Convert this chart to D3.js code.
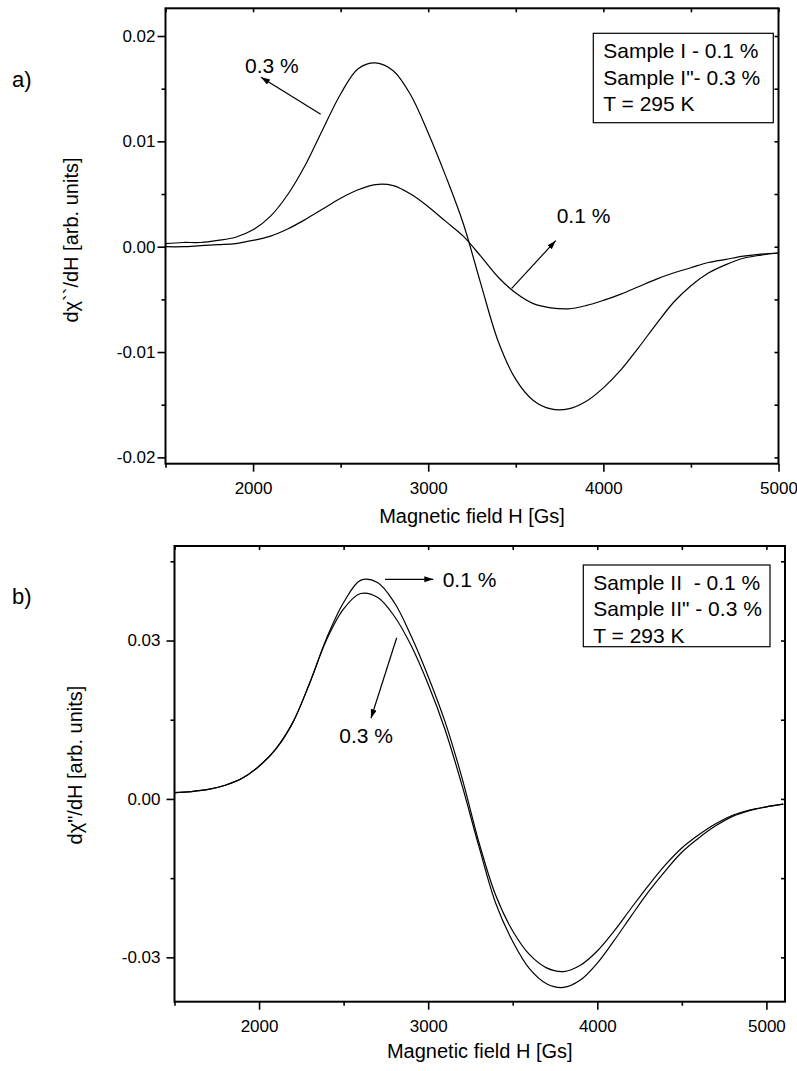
<!DOCTYPE html>
<html>
<head>
<meta charset="utf-8">
<title></title>
<script src="https://d3js.org/d3.v7.min.js"></script>
<style>
	body {
		margin: 0;
		background: #ffffff;
	}
	svg text {
		font-family: Arial, "Liberation Sans", sans-serif;
		fill: #000000;
	}
</style>
</head>
<body>
<div id="chart"></div>
<script>
//Magnetic field values (Gs) for panel a)
var fieldA = [1500, 1600, 1700, 1800, 1900, 2000, 2100, 2200, 2300, 2400, 2500, 2600, 2700, 2800, 2900,
	3000, 3100, 3200, 3300, 3400, 3500, 3600, 3700, 3800, 3900, 4000, 4100, 4200, 4300, 4400, 4500,
	4600, 4700, 4800, 4900, 5000];
//Sample I - 0.1 %
var sampleI_01 = [0.0000, 0.0000, 0.0001, 0.0002, 0.0003, 0.0006, 0.0010, 0.0017, 0.0026, 0.0036, 0.0046,
	0.0054, 0.0059, 0.0058, 0.0050, 0.0038, 0.0024, 0.0010, -0.0009, -0.0029, -0.0044, -0.0054, -0.0058,
	-0.0059, -0.0056, -0.0051, -0.0045, -0.0038, -0.0031, -0.0025, -0.0020, -0.0015, -0.0012, -0.0009,
	-0.0007, -0.0006];
//Sample I" - 0.3 %
var sampleI_03 = [0.0003, 0.0004, 0.0004, 0.0006, 0.0009, 0.0016, 0.0029, 0.0050, 0.0078, 0.0112, 0.0145,
	0.0169, 0.01745, 0.0167, 0.0144, 0.0108, 0.0067, 0.0022, -0.0035, -0.0090, -0.0126, -0.0146, -0.0154,
	-0.0154, -0.0147, -0.0134, -0.0117, -0.0096, -0.0074, -0.0053, -0.0037, -0.0025, -0.0017, -0.0011,
	-0.0008, -0.0006];

//Magnetic field values (Gs) for panel b)
var fieldB = [1500, 1600, 1700, 1800, 1900, 2000, 2100, 2200, 2300, 2400, 2500, 2600, 2700, 2800, 2900,
	3000, 3100, 3200, 3300, 3400, 3500, 3600, 3700, 3800, 3900, 4000, 4100, 4200, 4300, 4400, 4500,
	4600, 4700, 4800, 4900, 5000, 5100];
//Sample II - 0.1 %
var sampleII_01 = [0.0012, 0.0014, 0.0018, 0.0026, 0.0039, 0.0062, 0.0095, 0.0145, 0.0220, 0.0305, 0.0372,
	0.0414, 0.0410, 0.0372, 0.0308, 0.0232, 0.0146, 0.0040, -0.0082, -0.0183, -0.0250, -0.0295, -0.0320,
	-0.0327, -0.0315, -0.0288, -0.0250, -0.0207, -0.0165, -0.0126, -0.0093, -0.0068, -0.0047, -0.0031,
	-0.0021, -0.0015, -0.0010];
//Sample II" - 0.3 %
var sampleII_03 = [0.0012, 0.0014, 0.0018, 0.0026, 0.0039, 0.0062, 0.0095, 0.0145, 0.0220, 0.0302, 0.0360,
	0.0389, 0.0382, 0.0346, 0.0290, 0.0217, 0.0131, 0.0026, -0.0090, -0.0198, -0.0270, -0.0322, -0.0350,
	-0.0357, -0.0343, -0.0311, -0.0268, -0.0222, -0.0177, -0.0137, -0.0101, -0.0074, -0.0051, -0.0033,
	-0.0022, -0.0015, -0.0010];

//Tick values and labels
var xMajor = [2000, 3000, 4000, 5000];
var xMinor = [1500, 2500, 3500, 4500];
var yMajorA = [0.02, 0.01, 0, -0.01, -0.02];
var yLabelsA = ["0.02", "0.01", "0.00", "-0.01", "-0.02"];
var yMinorA = [0.015, 0.005, -0.005, -0.015];
var yMajorB = [0.03, 0, -0.03];
var yLabelsB = ["0.03", "0.00", "-0.03"];
var yMinorB = [0.045, 0.015, -0.015];

//Legend texts
var legendA = ["Sample I - 0.1 %", "Sample I\"- 0.3 %", "T = 295 K"];
var legendB = ["Sample II  - 0.1 %", "Sample II\" - 0.3 %", "T = 293 K"];

var width = 797;
var height = 1071;

var canvas = d3.select("#chart").append("svg")
	.attr("width", width)
	.attr("height", height);

//Arrow head used by the annotations
canvas.append("defs").append("marker")
	.attr("id", "arrow")
	.attr("markerUnits", "userSpaceOnUse")
	.attr("markerWidth", 10)
	.attr("markerHeight", 8)
	.attr("refX", 9)
	.attr("refY", 3)
	.attr("orient", "auto")
	.append("path")
	.attr("d", "M0,0 L9,3 L0,6 Z")
	.attr("fill", "#000");

//Draws one panel: frame, ticks, curves, legend box
function drawPanel(p) {
	var g = canvas.append("g");
	var x = p.x, y = p.y;
	var x0 = x.range()[0], x1 = x.range()[1];
	var y0 = y.range()[0], y1 = y.range()[1];

	//bottom axis, major + minor
	g.append("g").attr("transform", "translate(0," + y0 + ")")
		.call(d3.axisBottom(x).tickValues(xMajor).tickSize(8).tickPadding(10).tickFormat(d3.format("d")));
	g.append("g").attr("transform", "translate(0," + y0 + ")")
		.call(d3.axisBottom(x).tickValues(xMinor).tickSize(4).tickFormat(""));

	//left axis, major + minor
	g.append("g").attr("transform", "translate(" + x0 + ",0)")
		.call(d3.axisLeft(y).tickValues(p.yMajor).tickSize(8).tickPadding(p.yPad)
			.tickFormat(function(d, i) { return p.yLabels[i]; }));
	g.append("g").attr("transform", "translate(" + x0 + ",0)")
		.call(d3.axisLeft(y).tickValues(p.yMinor).tickSize(4).tickFormat(""));

	//mirrored ticks on top and right, pointing inward
	g.append("g").attr("transform", "translate(0," + y1 + ")")
		.call(d3.axisTop(x).tickValues(xMajor.concat(xMinor)).tickSize(-4).tickFormat(""));
	g.append("g").attr("transform", "translate(" + x1 + ",0)")
		.call(d3.axisRight(y).tickValues(p.yMajor.concat(p.yMinor)).tickSize(-4).tickFormat(""));

	g.selectAll(".domain").remove();
	g.selectAll(".tick line").attr("stroke", "#000").attr("stroke-width", 1.6);
	g.selectAll(".tick text").attr("font-size", 17).attr("font-family", "Arial, 'Liberation Sans', sans-serif");

	//frame
	g.append("rect")
		.attr("x", x0).attr("y", y1)
		.attr("width", x1 - x0).attr("height", y0 - y1)
		.attr("fill", "none").attr("stroke", "#000").attr("stroke-width", 2);

	//curves
	var line = d3.line()
		.x(function(d) { return x(d[0]); })
		.y(function(d) { return y(d[1]); })
		.curve(d3.curveCatmullRom.alpha(0.5));
	p.series.forEach(function(s) {
		g.append("path")
			.datum(p.field.map(function(f, i) { return [f, s[i]]; }))
			.attr("d", line)
			.attr("fill", "none")
			.attr("stroke", "#000")
			.attr("stroke-width", 1.2);
	});

	//axis titles
	g.append("text")
		.text("Magnetic field H [Gs]")
		.attr("x", (x0 + x1) / 2).attr("y", p.xTitleY)
		.attr("text-anchor", "middle").attr("font-size", 20);
	g.append("text")
		.text(p.yTitle)
		.attr("transform", "translate(" + p.yTitleX + "," + p.yTitleY + ") rotate(-90)")
		.attr("text-anchor", "middle").attr("font-size", 20);

	//panel letter
	g.append("text").text(p.letter)
		.attr("x", 12).attr("y", p.letterY).attr("font-size", 22);

	//legend box
	var lb = p.legendBox;
	g.append("rect")
		.attr("x", lb[0]).attr("y", lb[1]).attr("width", lb[2]).attr("height", lb[3])
		.attr("fill", "#fff").attr("stroke", "#000").attr("stroke-width", 1.2);
	g.selectAll(".leg").data(p.legend).enter().append("text")
		.text(function(d) { return d; })
		.attr("x", lb[0] + 10)
		.attr("y", function(d, i) { return lb[1] + 25 + i * 26.3; })
		.attr("font-size", 21)
		.style("white-space", "pre");

	//annotation arrows
	p.notes.forEach(function(n) {
		g.append("line")
			.attr("x1", n.from[0]).attr("y1", n.from[1])
			.attr("x2", n.to[0]).attr("y2", n.to[1])
			.attr("stroke", "#000").attr("stroke-width", 1.2)
			.attr("marker-end", "url(#arrow)");
		g.append("text").text(n.label)
			.attr("x", n.at[0]).attr("y", n.at[1]).attr("font-size", 21)
			.style("white-space", "pre");
	});
}

//panel a)
drawPanel({
	x: d3.scaleLinear().domain([1500, 5000]).range([165.5, 778.5]),
	y: d3.scaleLinear().domain([-0.0206, 0.02263]).range([463.7, 8.3]),
	field: fieldA,
	series: [sampleI_01, sampleI_03],
	yMajor: yMajorA, yLabels: yLabelsA, yMinor: yMinorA, yPad: 2,
	xTitleY: 523,
	yTitle: "dχ``/dH [arb. units]", yTitleX: 78, yTitleY: 240,
	letter: "a)", letterY: 87,
	legend: legendA, legendBox: [593.3, 33.3, 180, 89.4],
	notes: [
		{from: [320.7, 114.3], to: [261, 77.3], label: "0.3 %", at: [245, 73]},
		{from: [511.7, 288.3], to: [555.7, 240.7], label: "0.1 %", at: [556.7, 223]}
	]
});

//panel b)
drawPanel({
	x: d3.scaleLinear().domain([1500, 5110]).range([174.5, 785]),
	y: d3.scaleLinear().domain([-0.0384, 0.0479]).range([1001.7, 546]),
	field: fieldB,
	series: [sampleII_01, sampleII_03],
	yMajor: yMajorB, yLabels: yLabelsB, yMinor: yMinorB, yPad: 6,
	xTitleY: 1058,
	yTitle: "dχ\"/dH [arb. units]", yTitleX: 82, yTitleY: 765,
	letter: "b)", letterY: 604,
	legend: legendB, legendBox: [583.3, 565, 186.7, 81.7],
	notes: [
		{from: [385, 579.3], to: [433.3, 579.3], label: "0.1 %", at: [442.7, 587]},
		{from: [396.7, 637.7], to: [371, 718.3], label: "0.3 %", at: [339.3, 743]}
	]
});
</script>
</body>
</html>
